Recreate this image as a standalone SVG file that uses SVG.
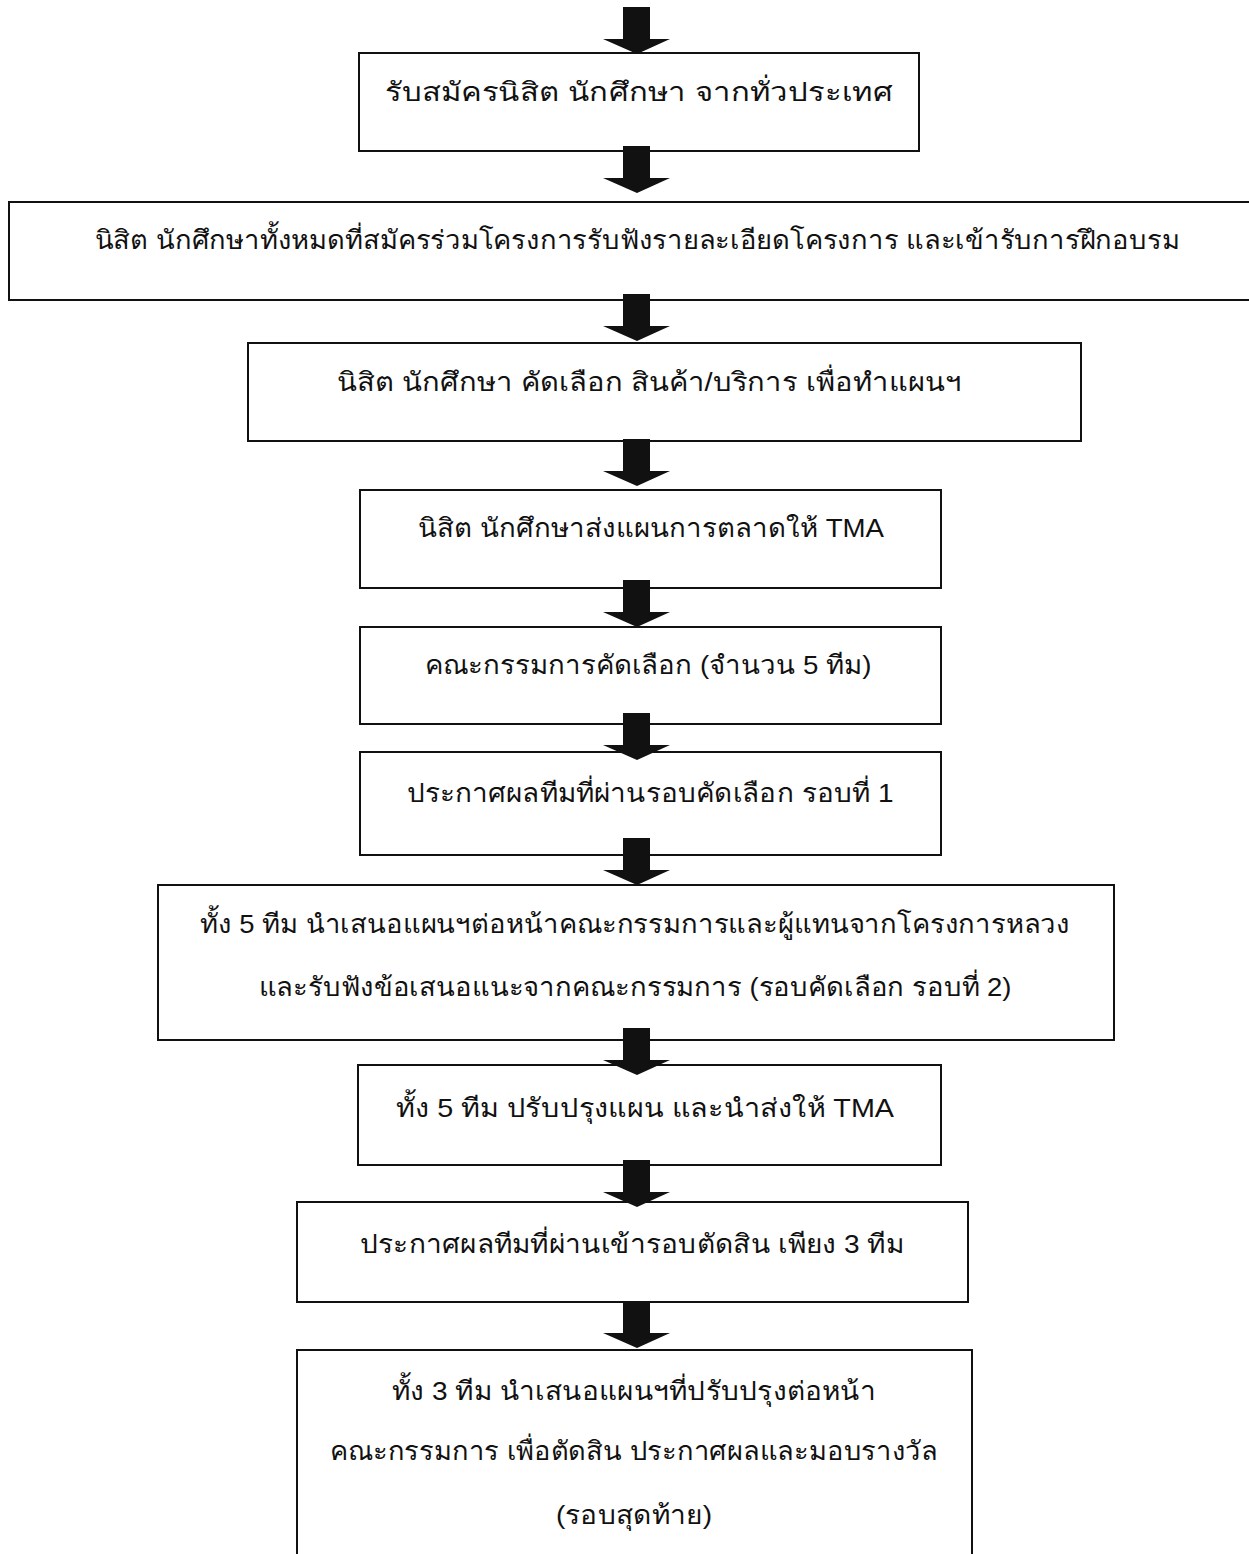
<svg xmlns="http://www.w3.org/2000/svg" width="1249" height="1554" viewBox="0 0 1249 1554">
<style>
.box{fill:none;stroke:#111;stroke-width:2}
.t{font-family:"Liberation Sans","Noto Sans",sans-serif;font-size:26px;fill:#111;text-anchor:middle}
.arr{fill:#111}
</style>
<defs>
<path id="arrow" d="M623,0 H650 V32 H670 L637,47 L603,32 H623 Z"/>
</defs>
<rect width="1249" height="1554" fill="#fff"/>
<g id="connectors">
<use href="#arrow" class="arr" y="7"/>
<use href="#arrow" class="arr" y="146"/>
<use href="#arrow" class="arr" y="294"/>
<use href="#arrow" class="arr" y="439"/>
<use href="#arrow" class="arr" y="580"/>
<use href="#arrow" class="arr" y="713"/>
<use href="#arrow" class="arr" y="838"/>
<use href="#arrow" class="arr" y="1028"/>
<use href="#arrow" class="arr" y="1160"/>
<use href="#arrow" class="arr" y="1301"/>
</g>
<g id="n1"><rect class="box" x="359" y="53" width="560" height="98"/>
<text class="t" x="639" y="101" textLength="508" lengthAdjust="spacingAndGlyphs">รับสมัครนิสิต นักศึกษา จากทั่วประเทศ</text></g>
<g id="n2"><rect class="box" x="9" y="202" width="1245" height="98"/>
<text class="t" x="637" y="249" textLength="1085" lengthAdjust="spacingAndGlyphs">นิสิต นักศึกษาทั้งหมดที่สมัครร่วมโครงการรับฟังรายละเอียดโครงการ และเข้ารับการฝึกอบรม</text></g>
<g id="n3"><rect class="box" x="248" y="343" width="833" height="98"/>
<text class="t" x="649" y="391" textLength="625" lengthAdjust="spacingAndGlyphs">นิสิต นักศึกษา คัดเลือก สินค้า/บริการ เพื่อทำแผนฯ</text></g>
<g id="n4"><rect class="box" x="360" y="490" width="581" height="98"/>
<text class="t" x="651" y="537" textLength="466" lengthAdjust="spacingAndGlyphs">นิสิต นักศึกษาส่งแผนการตลาดให้ TMA</text></g>
<g id="n5"><rect class="box" x="360" y="627" width="581" height="97"/>
<text class="t" x="648" y="674" textLength="447" lengthAdjust="spacingAndGlyphs">คณะกรรมการคัดเลือก (จำนวน 5 ทีม)</text></g>
<g id="n6"><rect class="box" x="360" y="752" width="581" height="103"/>
<text class="t" x="650" y="802" textLength="487" lengthAdjust="spacingAndGlyphs">ประกาศผลทีมที่ผ่านรอบคัดเลือก รอบที่ 1</text></g>
<g id="n7"><rect class="box" x="158" y="885" width="956" height="155"/>
<text class="t" x="635" y="933" textLength="870" lengthAdjust="spacingAndGlyphs">ทั้ง 5 ทีม นำเสนอแผนฯต่อหน้าคณะกรรมการและผู้แทนจากโครงการหลวง</text>
<text class="t" x="635" y="996" textLength="753" lengthAdjust="spacingAndGlyphs">และรับฟังข้อเสนอแนะจากคณะกรรมการ (รอบคัดเลือก รอบที่ 2)</text></g>
<g id="n8"><rect class="box" x="358" y="1065" width="583" height="100"/>
<text class="t" x="645" y="1117" textLength="498" lengthAdjust="spacingAndGlyphs">ทั้ง 5 ทีม ปรับปรุงแผน และนำส่งให้ TMA</text></g>
<g id="n9"><rect class="box" x="297" y="1202" width="671" height="100"/>
<text class="t" x="632" y="1253" textLength="544" lengthAdjust="spacingAndGlyphs">ประกาศผลทีมที่ผ่านเข้ารอบตัดสิน เพียง 3 ทีม</text></g>
<g id="n10"><path class="box" d="M297,1560 V1350 H972 V1560"/>
<text class="t" x="634" y="1400" textLength="484" lengthAdjust="spacingAndGlyphs">ทั้ง 3 ทีม นำเสนอแผนฯที่ปรับปรุงต่อหน้า</text>
<text class="t" x="634" y="1460" textLength="608" lengthAdjust="spacingAndGlyphs">คณะกรรมการ เพื่อตัดสิน ประกาศผลและมอบรางวัล</text>
<text class="t" x="634" y="1524" textLength="156" lengthAdjust="spacingAndGlyphs">(รอบสุดท้าย)</text></g>
</svg>
